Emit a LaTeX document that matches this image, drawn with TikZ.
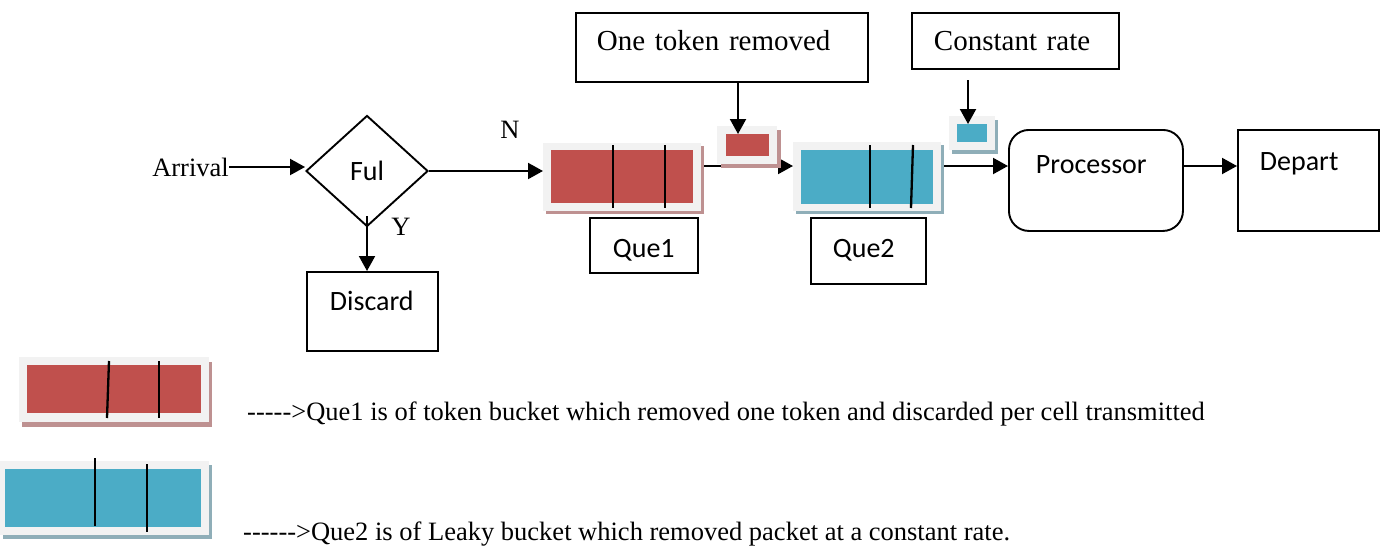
\documentclass[tikz,border=0pt]{standalone}
\usepackage{fontspec}
\setmainfont{Liberation Serif}
\newfontfamily\calibri{Carlito}
\usetikzlibrary{arrows.meta,shapes.geometric}

\definecolor{quered}{RGB}{192,80,77}
\definecolor{queblue}{RGB}{75,172,198}
\definecolor{quegray}{RGB}{242,242,242}
\definecolor{redshade}{RGB}{190,145,145}
\definecolor{blueshade}{RGB}{143,174,184}

\tikzset{
  box/.style={draw, line width=1.9pt, inner ysep=0pt, align=left, anchor=north west,
    font=\fontsize{28}{34}\selectfont\calibri},
  serifbox/.style={box, font=\fontsize{29}{34}\selectfont},
  serif/.style={inner sep=0pt, font=\fontsize{26.5}{32}\selectfont},
  decision/.style={diamond, draw, line width=1.9pt, minimum width=122pt, minimum height=111pt,
    inner sep=0pt, font=\fontsize{28}{34}\selectfont\calibri},
  slot/.style={inner sep=0pt, outer sep=0pt},
  arr/.style={line width=2pt, -{Triangle[length=15pt,width=16pt]}},
  cell/.style={line width=2.3pt},
}

\begin{document}
\begin{tikzpicture}[x=1pt,y=1pt,yscale=-1]
\useasboundingbox (0,0) rectangle (1381,546);

%Boxes on top
\node[serifbox, inner xsep=21pt, text width=250pt, text height=38pt, text depth=31pt] (token) at (575,12) {One token removed};
\node[serifbox, inner xsep=22pt, text width=163pt, text height=38pt, text depth=18pt] (rate) at (911,12) {Constant rate};

%Decision
\node[serif, anchor=east] (arrival) at (229,167) {Arrival};
\node[decision] (ful) at (367,171) {Ful};
\node[serif] (nmark) at (510,130) {N};
\node[serif] (ymark) at (401,227) {Y};
\node[box, inner xsep=23pt, text width=85pt, text height=39pt, text depth=40pt] (discard) at (306,271) {Discard};

%Processor and exit
\node[box, rounded corners=20pt, inner xsep=27pt, text width=120pt, text height=44pt, text depth=57pt] (proc) at (1008,129) {Processor};
\node[box, inner xsep=22pt, text width=97pt, text height=41pt, text depth=60pt] (depart) at (1237,129) {Depart};

%Flow line
\coordinate (q1out) at (697,166);
\coordinate (q2out) at (937,166);
\coordinate (fulfoot) at (367,216);
\coordinate (tokdrop) at (738,81);
\coordinate (ratedrop) at (968,80);

\draw[arr] (arrival.east) -- (arrival.east -| ful.west);
\draw[arr] (ful.east) -- (ful.east -| 543,0);
\draw[arr] (fulfoot) -- (fulfoot |- discard.north);
\draw[arr] (q1out) -- (q1out -| 793,0);
\draw[arr] (q2out) -- (q2out -| proc.west);
\draw[arr] (q2out -| proc.east) -- (q2out -| depart.west);

%Que1
\fill[redshade] (546,146) rectangle (704,214);
\node[slot, fill=quegray, minimum width=158pt, minimum height=68pt] (q1) at (622,177) {};
\fill[quered] (551,150) rectangle (693,203);
\draw[cell] (613,145) -- (613,208);
\draw[cell] (665,145) -- (665,208);
\node[box, inner xsep=23pt, text width=62pt, text height=40pt, text depth=15pt] (q1name) at (589,217) {Que1};

%Que2
\fill[blueshade] (796,145) rectangle (944,214);
\node[slot, fill=quegray, minimum width=148pt, minimum height=69pt] (q2) at (867,176.5) {};
\fill[queblue] (801,150) rectangle (933,204);
\draw[cell] (870,145) -- (870,208);
\draw[cell] (913,145) -- (911,208);
\node[box, inner xsep=22pt, text width=71pt, text height=40pt, text depth=26pt] (q2name) at (810,217) {Que2};

%Tokens
\fill[redshade] (721,130) rectangle (781,168);
\fill[quegray] (717,126) rectangle (777,164);
\node[slot, fill=quered, minimum width=43pt, minimum height=22pt] (tok1) at (747.5,145) {};
\fill[blueshade] (952,120) rectangle (998,154);
\fill[quegray] (949,116) rectangle (995,150);
\node[slot, fill=queblue, minimum width=30pt, minimum height=18pt] (tok2) at (972,133) {};
\draw[arr] (tokdrop) -- (tokdrop |- tok1.north);
\draw[arr] (ratedrop) -- (ratedrop |- tok2.north);

%Legend
\fill[redshade] (22,362) rectangle (212,427);
\fill[quegray] (19,357) rectangle (209,422);
\fill[quered] (27,365) rectangle (201,413);
\draw[cell] (109,361) -- (107,418);
\draw[cell] (159,361) -- (159,418);
\node[serif, anchor=base west] (legred) at (247,420) {-{}-{}-{}-{}->Que1 is of token bucket which removed one token and discarded per cell transmitted};

\fill[blueshade] (3,465) rectangle (212,539);
\fill[quegray] (0,461) rectangle (209,535);
\fill[queblue] (5,469) rectangle (201,527);
\draw[cell] (95,458) -- (95,526);
\draw[cell] (147,464) -- (147,532);
\node[serif, anchor=base west] (legblue) at (243,540) {-{}-{}-{}-{}-{}->Que2 is of Leaky bucket which removed packet at a constant rate.};

\end{tikzpicture}
\end{document}
